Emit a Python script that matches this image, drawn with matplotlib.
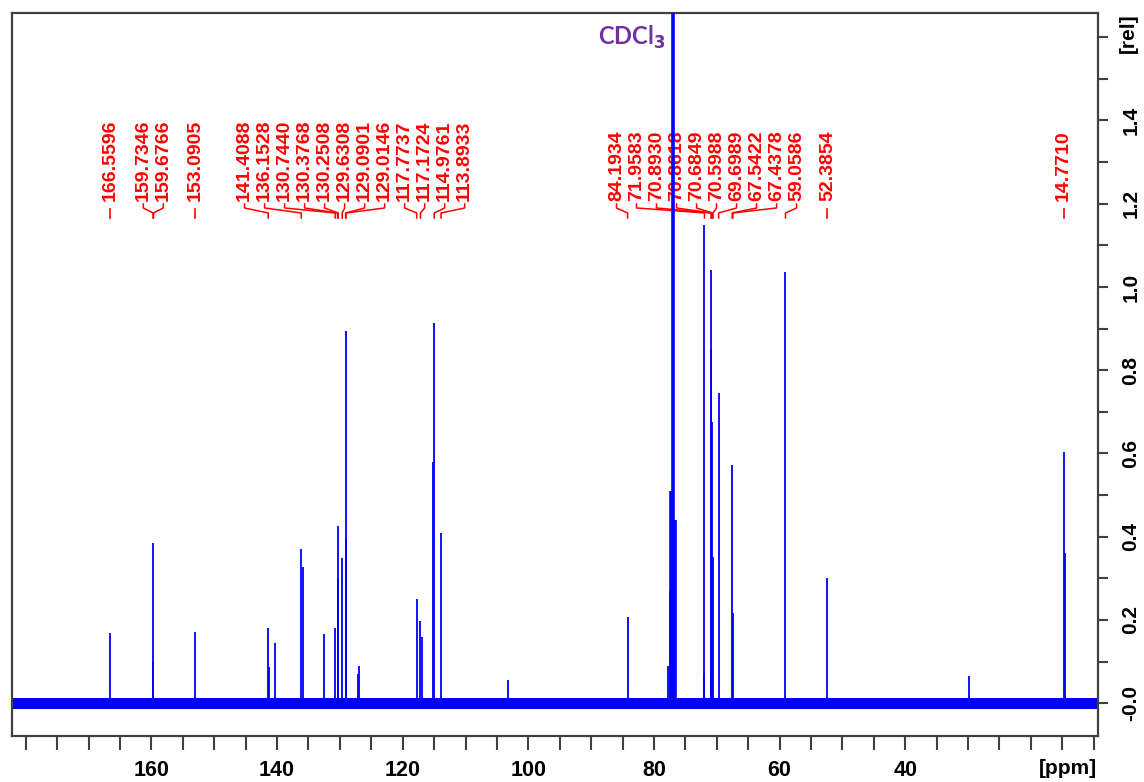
import matplotlib.pyplot as plt
import matplotlib.transforms as mtransforms
from matplotlib.ticker import FixedLocator, MultipleLocator

# 13C peak list (ppm, relative intensity)
peak_ppm = [166.5596, 159.7346, 159.6766, 153.0905, 141.4088, 141.25, 140.3,
            136.1528, 135.95, 132.6, 130.7440, 130.3768, 130.2508, 129.6308,
            129.0901, 129.0146, 127.05, 126.9, 117.7737, 117.1724, 116.95,
            115.15, 114.9761, 113.8933, 103.3, 84.1934, 77.75, 77.45, 72.1,
            71.9583, 70.8930, 70.8618, 70.6849, 70.5988, 69.6989, 67.5422,
            67.4378, 59.0586, 52.3854, 29.8, 14.7710, 14.6]
peak_int = [0.168, 0.384, 0.098, 0.172, 0.18, 0.088, 0.144,
            0.37, 0.327, 0.166, 0.18, 0.426, 0.30, 0.348,
            0.894, 0.397, 0.07, 0.089, 0.25, 0.197, 0.16,
            0.58, 0.913, 0.408, 0.055, 0.206, 0.09, 0.27, 0.07,
            1.148, 1.04, 0.85, 0.675, 0.35, 0.745, 0.571,
            0.216, 1.035, 0.30, 0.065, 0.603, 0.36]

# CDCl3 solvent triplet (centre line is off scale)
solvent_ppm = [77.25, 76.93, 76.61]
solvent_int = [0.51, 2.5, 0.44]

# labelled multiplets as printed above the spectrum
label_groups = [
    [166.5596],
    [159.7346, 159.6766],
    [153.0905],
    [141.4088, 136.1528, 130.7440, 130.3768, 130.2508, 129.6308,
     129.0901, 129.0146, 117.7737, 117.1724, 114.9761, 113.8933],
    [84.1934, 71.9583, 70.8930, 70.8618, 70.6849, 70.5988, 69.6989,
     67.5422, 67.4378, 59.0586],
    [52.3854],
    [14.7710],
]

x_major = [160, 140, 120, 100, 80, 60, 40]
y_major = [0.0, 0.2, 0.4, 0.6, 0.8, 1.0, 1.2, 1.4]

fig = plt.figure(figsize=(11.44, 7.82), dpi=100)
ax = fig.add_axes([0.0105, 0.0588, 0.9493, 0.925])
ax.set_xlim(182.2, 9.3)
ax.set_ylim(-0.079, 1.659)

blue = '#0000ff'
# noisy baseline drawn as a band
ax.fill_between([182.2, 9.3], -0.015, 0.012, color=blue, lw=0, zorder=2)
ax.vlines(peak_ppm, 0, peak_int, color=blue, lw=1.3, zorder=3)
ax.vlines(solvent_ppm, 0, solvent_int, color=blue, lw=2.6, zorder=4)

# peak labels with connectors
trans = mtransforms.blended_transform_factory(ax.transData, ax.transAxes)
ax_h = 723.3
def yfrac(px):
    return (736 - px) / ax_h

spacing = 20 / 6.278  # label pitch in ppm
red = '#ff0000'
for grp in label_groups:
    centre = (max(grp) + min(grp)) / 2
    n = len(grp)
    for i, p in enumerate(grp):
        lx = centre + (n - 1) / 2 * spacing - i * spacing if n > 1 else p
        ax.text(lx, yfrac(201), f'{p:.4f}', rotation=90, ha='center', va='bottom',
                color=red, fontsize=14, fontweight='bold', family='Liberation Sans',
                transform=trans, zorder=1)
        if n == 1:
            ax.plot([p, p], [yfrac(209), yfrac(218)], color=red, lw=1.2,
                    transform=trans, clip_on=False, zorder=1)
        else:
            ax.plot([lx, lx, p, p], [yfrac(204), yfrac(208), yfrac(213), yfrac(218)],
                    color=red, lw=1.1, transform=trans, clip_on=False, zorder=1)

ax.text(78.2, yfrac(45), 'CDCl$_\\mathbf{3}$', color='#7030a0', fontsize=17,
        fontweight='bold', family='Lato', ha='right', va='baseline', transform=trans)

# axes styling (Bruker TopSpin look)
for s in ax.spines.values():
    s.set_color('#404040')
    s.set_linewidth(1.6)

ax.xaxis.set_major_locator(FixedLocator(x_major))
ax.xaxis.set_minor_locator(MultipleLocator(5))
ax.tick_params(axis='x', which='both', direction='out', length=10, width=1.5,
               color='#404040', pad=7)
ax.set_xticklabels([str(v) for v in x_major], fontsize=15.5, fontweight='bold',
                   family='Liberation Sans')

ax.yaxis.tick_right()
ax.yaxis.set_major_locator(FixedLocator(y_major))
ax.yaxis.set_minor_locator(MultipleLocator(0.1))
ax.tick_params(axis='y', which='both', direction='out', length=7, width=1.5,
               color='#404040', pad=10)
ax.set_yticklabels(['-0.0'] + [f'{v:.1f}' for v in y_major[1:]], fontsize=15,
                   fontweight='bold', family='Liberation Sans', rotation=90,
                   va='center')

fig.text(1068 / 1144, 1 - 768 / 782, '[ppm]', ha='center', va='center',
         fontsize=15, fontweight='bold', family='Liberation Sans')
fig.text(1128 / 1144, 1 - 33 / 782, '[rel]', ha='center', va='center',
         rotation=90, fontsize=15, fontweight='bold', family='Liberation Sans')

fig.savefig('out.png', dpi=100)
